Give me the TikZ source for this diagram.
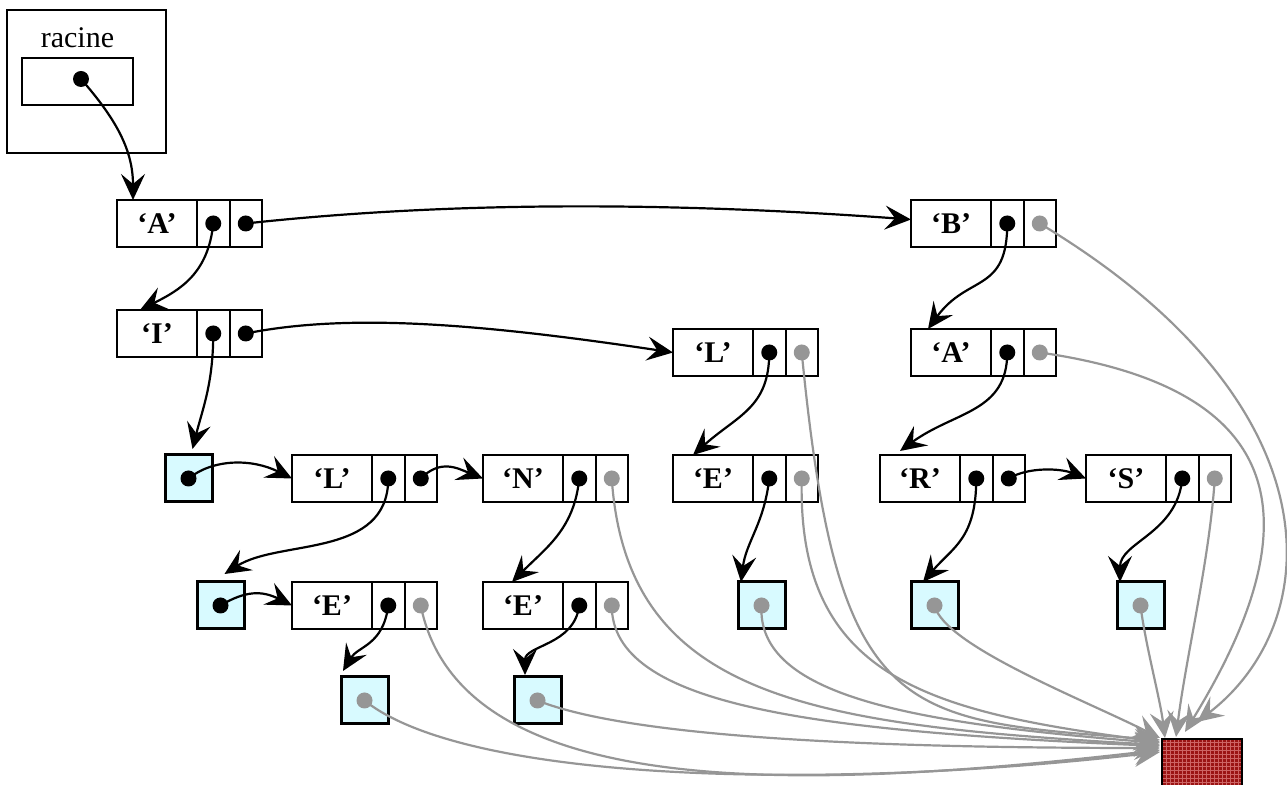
\documentclass[tikz,border=0pt]{standalone}
\usepackage{fontspec}
\setmainfont{Liberation Serif}
\usetikzlibrary{positioning,arrows.meta}

\definecolor{gris}{RGB}{150,150,150}
\definecolor{cyanclair}{RGB}{216,250,255}
\definecolor{rouge}{RGB}{155,20,20}
\definecolor{rougeclair}{RGB}{205,100,100}

\tikzset{
  boite/.style={draw, line width=1pt, inner sep=0pt, outer sep=0pt, anchor=north west},
  etiq/.style={boite, minimum width=40pt, minimum height=23.5pt,
    font=\fontsize{15}{17}\selectfont\bfseries},
  case/.style={draw, line width=1pt, inner sep=0pt, outer sep=0pt,
    minimum width=16.25pt, minimum height=23.5pt},
  fin/.style={boite, line width=1.5pt, fill=cyanclair, minimum size=23.5pt},
  nul/.style={boite, fill=rouge, minimum width=40pt, minimum height=23.5pt,
    path picture={\draw[rougeclair, line width=0.35pt, step=2pt]
      (path picture bounding box.south west) grid (path picture bounding box.north east);}},
  pointeur/.style={circle, fill=#1, inner sep=0pt, minimum size=8pt},
  pointeur/.default=black,
  lien/.style={line width=1.1pt, -{Stealth[length=13pt,width=12pt,inset=5pt]}},
  vide/.style={lien, gris}
}

\begin{document}
\begin{tikzpicture}[x=0.5pt,y=-0.5pt]
\useasboundingbox (0,0) rectangle (1287,785);

% one cell of the trie: letter, first child, next sibling
\newcommand{\noeud}[5]{
  \node[etiq] (#1) at (#2,#3) {#4};
  \node[case, right=0pt of #1] (#1-f) {};
  \node[case, right=0pt of #1-f] (#1-s) {};
  \node[pointeur] (#1-pf) at (#1-f) {};
  \node[pointeur=#5] (#1-ps) at (#1-s) {};
}
% end of word marker
\newcommand{\marque}[4]{
  \node[fin] (#1) at (#2,#3) {};
  \node[pointeur=#4] (#1-p) at (#1) {};
}

% the root
\node[boite, minimum width=79.5pt, minimum height=71.5pt] (racine) at (7,10) {};
\node[font=\fontsize{15}{17}\selectfont, anchor=base] (racine-nom) at (77.5,48) {racine};
\node[boite, minimum width=55.5pt, minimum height=23.5pt] (racine-case) at (22,58) {};
\node[pointeur] (racine-p) at (81,79) {};

% the cells
\noeud{a}{117}{200}{‘A’}{black}
\noeud{b}{911}{200}{‘B’}{gris}
\noeud{ai}{117}{310}{‘I’}{black}
\noeud{al}{673}{329}{‘L’}{gris}
\noeud{ba}{911}{329}{‘A’}{gris}
\noeud{ail}{292}{455}{‘L’}{black}
\noeud{ain}{483}{455}{‘N’}{gris}
\noeud{ale}{673}{455}{‘E’}{gris}
\noeud{bar}{880}{455}{‘R’}{black}
\noeud{bas}{1086}{455}{‘S’}{gris}
\noeud{aile}{292}{582}{‘E’}{gris}
\noeud{aine}{483}{582}{‘E’}{gris}

\marque{fin-ai}{165}{455}{black}
\marque{fin-ail}{197}{582}{black}
\marque{fin-aile}{341}{677}{gris}
\marque{fin-aine}{514}{677}{gris}
\marque{fin-ale}{738}{582}{gris}
\marque{fin-bar}{911}{582}{gris}
\marque{fin-bas}{1117}{582}{gris}

\node[nul] (nil) at (1162,739) {};

% black links
\draw[lien] (racine-p.center) .. controls +(35,40) and +(0,-50) .. ([xshift=8pt]a.north west);
\draw[lien] (a-pf.center) .. controls +(-5,50) and +(40,-20) .. ([xshift=11.5pt]ai.north west);
\draw[lien] (a-ps.center) .. controls +(220,-24) and +(-220,-16) .. ([yshift=2pt]b.west);
\draw[lien] (b-pf.center) .. controls +(0,70) and +(40,-55) .. ([xshift=8.5pt]ba.north west);
\draw[lien] (ai-pf.center) .. controls +(0,50) and +(10,-40) .. ([xshift=2pt,yshift=3pt]fin-ai.north);
\draw[lien] (ai-ps.center) .. controls +(100,-20) and +(-200,-30) .. (al.west);
\draw[lien] (al-pf.center) .. controls +(0,55) and +(45,-40) .. ([xshift=10pt]ale.north west);
\draw[lien] (ba-pf.center) .. controls +(0,60) and +(55,-40) .. ([xshift=10pt,yshift=2pt]bar.north west);
\draw[lien] (fin-ai-p.center) .. controls +(25,-20) and +(-40,-20) .. (ail.west);
\draw[lien] (ail-pf.center) .. controls +(0,80) and +(55,-35) .. ([xshift=2pt,yshift=4pt]fin-ail.north);
\draw[lien] (ail-ps.center) .. controls +(20,-20) and +(-25,-10) .. (ain.west);
\draw[lien] (ain-pf.center) .. controls +(-5,50) and +(35,-35) .. ([xshift=14.5pt]aine.north west);
\draw[lien] (ale-pf.center) .. controls +(-5,45) and +(5,-40) .. ([xshift=1.5pt]fin-ale.north west);
\draw[lien] (bar-pf.center) .. controls +(0,60) and +(30,-35) .. ([xshift=6pt]fin-bar.north west);
\draw[lien] (bar-ps.center) .. controls +(20,-12) and +(-25,-10) .. (bas.west);
\draw[lien] (bas-pf.center) .. controls +(-5,55) and +(0,-40) .. ([xshift=1.5pt]fin-bas.north west);
\draw[lien] (fin-ail-p.center) .. controls +(25,-15) and +(-30,-15) .. (aile.west);
\draw[lien] (aile-pf.center) .. controls +(-5,40) and +(15,-25) .. ([xshift=1pt,yshift=3pt]fin-aile.north west);
\draw[lien] (aine-pf.center) .. controls +(-5,40) and +(0,-30) .. ([xshift=5.5pt,yshift=1pt]fin-aine.north west);

% grey links to the empty cell
\foreach \de/\ax/\ay/\bx/\by/\dx/\dy in {
    b-ps/300/180/130/-100/35/-17,
    ba-ps/280/40/110/-180/23/-7,
    bas-ps/-5/80/10/-80/14/-2,
    fin-bas-p/5/40/-5/-40/3/-1,
    fin-bar-p/10/40/-80/-40/-2/-1,
    al-ps/36/370/-260/-20/-2/1,
    ale-ps/-5/200/-230/-30/-2/3,
    fin-ale-p/-5/90/-250/-20/-2/4,
    ain-ps/15/220/-350/-20/-2/6,
    aine-ps/0/100/-350/-15/-2/7,
    fin-aine-p/100/40/-250/0/-2/9,
    aile-ps/40/200/-350/40/-2/11,
    fin-aile-p/100/80/-350/40/-2/13}
  \draw[vide] (\de.center) .. controls +(\ax,\ay) and +(\bx,\by) .. ([shift={(\dx,\dy)}]nil.north west);
\end{tikzpicture}
\end{document}
